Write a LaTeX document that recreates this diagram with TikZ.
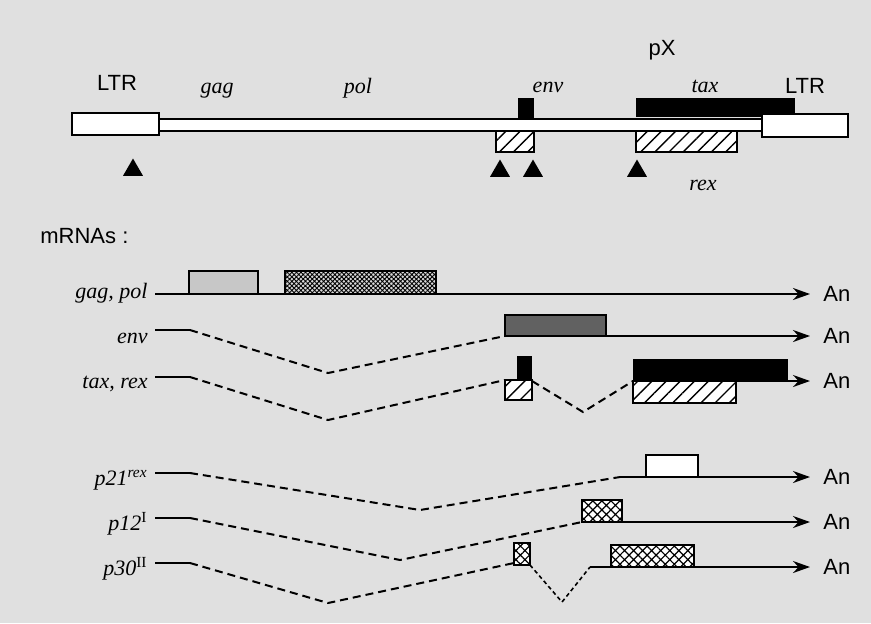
\documentclass[tikz,border=0pt]{standalone}
\usepackage{fontspec}
\setmainfont{Liberation Serif}
\newfontfamily\arialfont{Liberation Sans}
\usetikzlibrary{arrows.meta, patterns.meta, shapes.geometric}

\begin{document}
\begin{tikzpicture}[x=0.5pt, y=-0.5pt,
  box/.style={draw=black, line width=1pt},
  ltrbox/.style={box, fill=white},
  orfbar/.style={fill=black},
  hatchbox/.style={box, preaction={fill=white}, pattern={Lines[angle=45, distance=5pt, line width=0.7pt]}},
  gagbox/.style={box, fill=black!22},
  polbox/.style={box, preaction={fill=black!15}, pattern={Hatch[angle=45, distance=1.6pt, line width=0.45pt]}},
  envbox/.style={box, fill=black!62},
  xhatchbox/.style={box, preaction={fill=white}, pattern={Hatch[angle=45, distance=3.2pt, line width=0.6pt]}},
  exon/.style={line width=1pt},
  intron/.style={line width=1pt, dash pattern=on 4pt off 2.5pt},
  fineintron/.style={line width=0.8pt, dash pattern=on 2pt off 1.5pt},
  arr/.style={-{Stealth[length=8.5pt, width=6pt]}, line width=1pt},
  site/.style={regular polygon, regular polygon sides=3, fill=black, inner sep=0pt, minimum size=11.5pt},
  gene/.style={font=\fontsize{11}{13}\selectfont\itshape, inner sep=0pt},
  sans/.style={font=\arialfont\fontsize{11}{13}\selectfont, inner sep=0pt},
  polya/.style={sans, anchor=west, inner xsep=6.5pt, inner ysep=0pt},
]
\useasboundingbox (0,0) rectangle (871,623);
\fill[black!12] (0,0) rectangle (871,623);

% provirus
\draw[box, fill=white] (159,119) rectangle (762,131);
\draw[ltrbox] (72,113) rectangle (159,135);
\fill[orfbar] (518,98) rectangle (534,120);
\fill[orfbar] (636,98) rectangle (795,117);
\draw[ltrbox] (762,114) rectangle (848,137);
\draw[hatchbox] (496,131) rectangle (534,152);
\draw[hatchbox] (636,131) rectangle (737,152);

\node[site] (site1) at (133,170) {};
\node[site] (site2) at (500,171) {};
\node[site] (site3) at (533,171) {};
\node[site] (site4) at (637,171) {};

\node[sans, anchor=base] (ltr5) at (117,90) {LTR};
\node[gene, anchor=base] (gag) at (217,93) {gag};
\node[gene, anchor=base] (pol) at (358,93) {pol};
\node[gene, anchor=base] (env) at (548,92) {env};
\node[sans, anchor=base] (px) at (662,55) {pX};
\node[gene, anchor=base] (tax) at (705,92) {tax};
\node[sans, anchor=base] (ltr3) at (805,93) {LTR};
\node[gene, anchor=base] (rex) at (703,190) {rex};

\node[sans, anchor=base west] (mrnas) at (40,243) {mRNAs :};

% mRNAs
\node[gene, anchor=base east] (lgagpol) at (148,298) {gag, pol};
\node[gene, anchor=base east] (lenv) at (148,343) {env};
\node[gene, anchor=base east] (ltaxrex) at (148,388) {tax, rex};
\node[gene, anchor=base east] (lp21) at (148,485) {p21\textsuperscript{rex}};
\node[gene, anchor=base east] (lp12) at (148,530) {p12\textsuperscript{\upshape I}};
\node[gene, anchor=base east] (lp30) at (148,575) {p30\textsuperscript{\upshape II}};

\node[polya] (an1) at (810,294) {An};
\node[polya] (an2) at (810,336) {An};
\node[polya] (an3) at (810,381) {An};
\node[polya] (an4) at (810,477) {An};
\node[polya] (an5) at (810,522) {An};
\node[polya] (an6) at (810,567) {An};

% gag, pol
\coordinate (gp-s) at (155,294);
\draw[arr] (gp-s) -- (an1);
\draw[gagbox] (189,271) rectangle (258,294);
\draw[polbox] (285,271) rectangle (436,294);

% env
\coordinate (env-s) at (155,330);
\coordinate (env-d) at (190,330);
\coordinate (env-v) at (328,373);
\coordinate (env-a) at (505,336);
\draw[exon] (env-s) -- (env-d);
\draw[intron] (env-d) -- (env-v) -- (env-a);
\draw[arr] (env-a) -- (an2);
\draw[envbox] (505,315) rectangle (606,336);

% tax, rex
\coordinate (tr-s) at (155,377);
\coordinate (tr-d1) at (190,377);
\coordinate (tr-v1) at (328,420);
\coordinate (tr-a1) at (505,380);
\coordinate (tr-d2) at (532,381);
\coordinate (tr-v2) at (583,412);
\coordinate (tr-a2) at (633,381);
\draw[exon] (tr-s) -- (tr-d1);
\draw[intron] (tr-d1) -- (tr-v1) -- (tr-a1);
\fill[orfbar] (517,356) rectangle (532,380);
\draw[hatchbox] (505,380) rectangle (532,400);
\draw[intron] (tr-d2) -- (tr-v2) -- (tr-a2);
\draw[arr] (tr-a2) -- (an3);
\fill[orfbar] (633,359) rectangle (788,381);
\draw[hatchbox] (633,381) rectangle (736,403);

% p21rex
\coordinate (p21-s) at (155,473);
\coordinate (p21-d) at (190,473);
\coordinate (p21-v) at (420,510);
\coordinate (p21-a) at (620,477);
\draw[exon] (p21-s) -- (p21-d);
\draw[intron] (p21-d) -- (p21-v) -- (p21-a);
\draw[arr] (p21-a) -- (an4);
\draw[box, fill=white] (646,455) rectangle (698,477);

% p12I
\coordinate (p12-s) at (155,518);
\coordinate (p12-d) at (190,518);
\coordinate (p12-v) at (400,560);
\coordinate (p12-a) at (582,522);
\draw[exon] (p12-s) -- (p12-d);
\draw[intron] (p12-d) -- (p12-v) -- (p12-a);
\draw[arr] (p12-a) -- (an5);
\draw[xhatchbox] (582,500) rectangle (622,522);

% p30II
\coordinate (p30-s) at (155,563);
\coordinate (p30-d1) at (190,563);
\coordinate (p30-v1) at (328,603);
\coordinate (p30-a1) at (514,563);
\coordinate (p30-d2) at (530,565);
\coordinate (p30-v2) at (562,602);
\coordinate (p30-a2) at (590,567);
\draw[exon] (p30-s) -- (p30-d1);
\draw[intron] (p30-d1) -- (p30-v1) -- (p30-a1);
\draw[xhatchbox] (514,543) rectangle (530,565);
\draw[fineintron] (p30-d2) -- (p30-v2) -- (p30-a2);
\draw[arr] (p30-a2) -- (an6);
\draw[xhatchbox] (611,545) rectangle (694,567);
\end{tikzpicture}
\end{document}
